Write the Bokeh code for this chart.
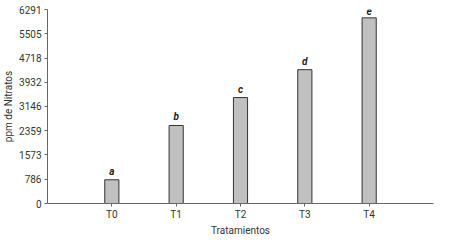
from bokeh.plotting import figure
from bokeh.models import Range1d, FixedTicker, ColumnDataSource
from bokeh.embed import file_html
from bokeh.resources import INLINE
from bokeh.core.properties import value

categories = ["T0", "T1", "T2", "T3", "T4"]
nitratos = [770, 2530, 3435, 4340, 6020]
letters = ["a", "b", "c", "d", "e"]
y_ticks = [0, 786, 1573, 2359, 3146, 3932, 4718, 5505, 6291]

xs = list(range(1, len(categories) + 1))
src = ColumnDataSource(dict(x=xs, top=nitratos, lab=letters))

p = figure(width=438, height=238, output_backend="svg", toolbar_location=None,
           x_range=Range1d(0, len(categories) + 1), y_range=Range1d(0, 6291),
           min_border_left=44, min_border_right=5, min_border_top=9, min_border_bottom=0)

p.vbar(x="x", top="top", width=0.22, bottom=0, source=src,
       fill_color="#c0c0c0", line_color="#333333", line_width=1)
p.text(x="x", y="top", text="lab", source=src, text_align="center", text_baseline="bottom",
       y_offset=-3, text_font=value("Roboto"), text_font_style="bold italic",
       text_font_size="10px", text_color="#222222")

p.xgrid.visible = False
p.ygrid.visible = False
p.outline_line_color = None

font = "Roboto"
for ax in (p.xaxis[0], p.yaxis[0]):
    ax.axis_line_color = "#666666"
    ax.major_tick_line_color = "#666666"
    ax.minor_tick_line_color = None
    ax.major_label_text_font = font
    ax.major_label_text_font_size = "10px"
    ax.major_label_text_color = "#333333"
    ax.axis_label_text_font = font
    ax.axis_label_text_font_size = "10px"
    ax.axis_label_text_font_style = "normal"
    ax.axis_label_text_color = "#333333"
    ax.major_tick_in = 0
    ax.major_tick_out = 3

p.xaxis.ticker = FixedTicker(ticks=xs)
p.xaxis.major_label_overrides = {x: c for x, c in zip(xs, categories)}
p.xaxis.axis_label = "Tratamientos"
p.xaxis.axis_label_standoff = 2
p.xaxis.major_label_standoff = 2

p.yaxis.ticker = FixedTicker(ticks=y_ticks)
p.yaxis.axis_label = "ppm de Nitratos"
p.yaxis.major_label_standoff = 3
p.yaxis.axis_label_standoff = 2

open("out.html", "w").write(file_html(p, INLINE))
